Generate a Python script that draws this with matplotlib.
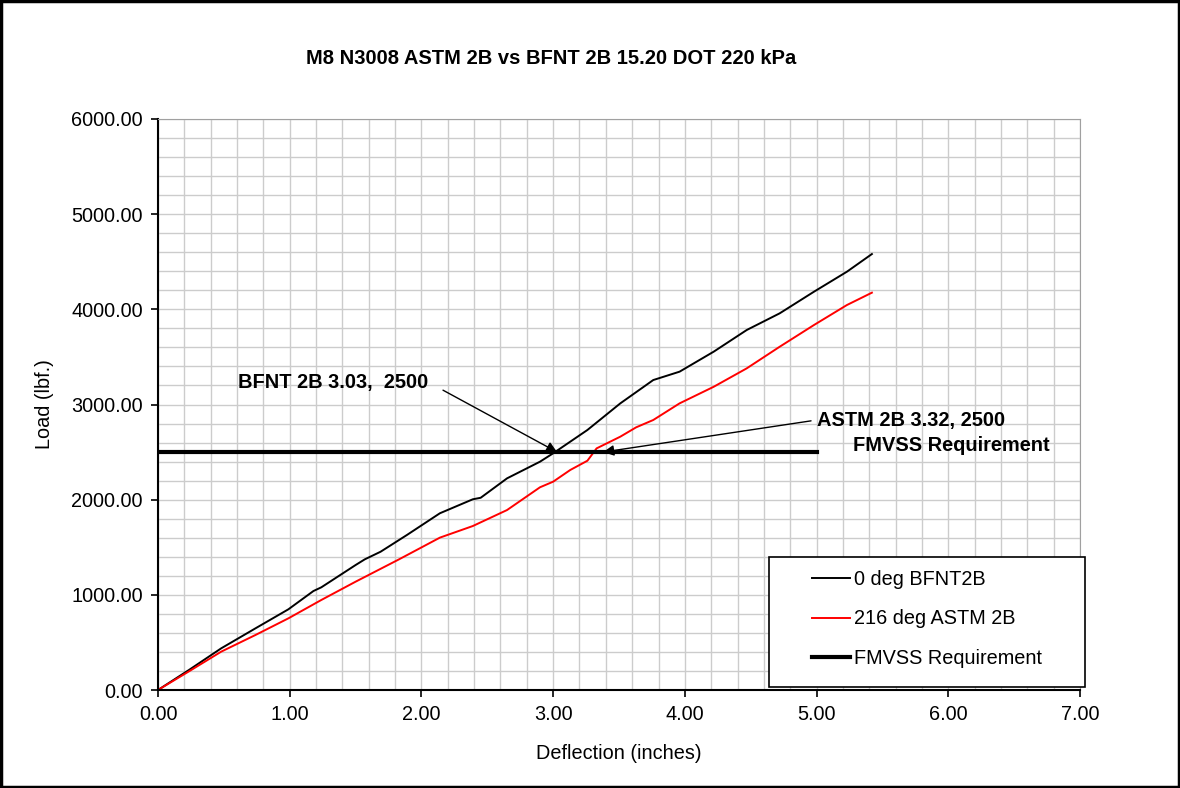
import matplotlib.pyplot as plt
from matplotlib.ticker import MultipleLocator, FormatStrFormatter
from matplotlib.patches import Rectangle

plt.rcParams['font.family'] = ['Liberation Sans', 'DejaVu Sans']

# curves (deflection in inches, load in lbf.)
bfnt_x = [0, 0.24, 0.48, 0.74, 0.99, 1.18, 1.24, 1.50, 1.57, 1.69, 1.89, 2.14, 2.39, 2.45,
          2.65, 2.90, 3.00, 3.26, 3.51, 3.76, 3.96, 4.22, 4.47, 4.72, 4.98, 5.23, 5.42]
bfnt_y = [0, 215, 438, 648, 848, 1040, 1079, 1313, 1373, 1453, 1629, 1857, 2004, 2020,
          2224, 2399, 2487, 2732, 3012, 3257, 3345, 3556, 3783, 3958, 4185, 4395, 4581]

astm_x = [0, 0.24, 0.48, 0.74, 0.99, 1.24, 1.50, 1.83, 2.14, 2.39, 2.65, 2.90, 3.00,
          3.13, 3.26, 3.33, 3.51, 3.63, 3.76, 3.96, 4.22, 4.47, 4.72, 4.98, 5.23, 5.42]
astm_y = [0, 200, 403, 578, 753, 946, 1138, 1373, 1601, 1723, 1891, 2130, 2189,
          2312, 2409, 2539, 2662, 2760, 2837, 3012, 3187, 3380, 3607, 3835, 4045, 4175]

req_x = [0, 5.0]
req_y = [2500, 2500]

fig = plt.figure(figsize=(11.8, 7.88), dpi=100)
ax = fig.add_axes([158 / 1180, 98 / 788, 922 / 1180, 571 / 788])

# border round the whole chart
fig.patches.append(Rectangle((0.001, 0.001), 0.998, 0.998, transform=fig.transFigure,
                             fill=False, edgecolor='black', lw=2.5))

ax.plot(bfnt_x, bfnt_y, color='black', lw=1.4, label='0 deg BFNT2B')
ax.plot(astm_x, astm_y, color='#ff0000', lw=1.4, label='216 deg ASTM 2B')
ax.plot(req_x, req_y, color='black', lw=3, label='FMVSS Requirement')

ax.set_xlim(0, 7)
ax.set_ylim(0, 6000)
ax.xaxis.set_major_locator(MultipleLocator(1))
ax.xaxis.set_minor_locator(MultipleLocator(0.2))
ax.yaxis.set_major_locator(MultipleLocator(1000))
ax.yaxis.set_minor_locator(MultipleLocator(200))
ax.xaxis.set_major_formatter(FormatStrFormatter('%.2f'))
ax.yaxis.set_major_formatter(FormatStrFormatter('%.2f'))
ax.grid(which='both', color='#cccccc', lw=1)
ax.set_axisbelow(True)
ax.tick_params(which='major', direction='out', length=5, width=1.2, labelsize=14.3, pad=6)
ax.tick_params(which='minor', length=0)
for s in ['top', 'right']:
    ax.spines[s].set_color('#a0a0a0')
for s in ['left', 'bottom']:
    ax.spines[s].set_linewidth(1.5)

ax.set_xlabel('Deflection (inches)', fontsize=14.3, labelpad=14)
ax.set_ylabel('Load (lbf.)', fontsize=14.3, labelpad=12)
fig.text(0.467, 0.926, 'M8 N3008 ASTM 2B vs BFNT 2B 15.20 DOT 220 kPa',
         ha='center', va='center', fontsize=14.5, fontweight='bold')

ax.annotate('BFNT 2B 3.03,  2500', xy=(3.03, 2500), xytext=(2.05, 3236),
            fontsize=14.4, fontweight='bold', ha='right', va='center',
            arrowprops=dict(arrowstyle='-|>', color='black', lw=1, mutation_scale=16,
                            relpos=(1, 0.5), shrinkA=10, shrinkB=0))
ax.annotate('ASTM 2B 3.32, 2500', xy=(3.38, 2500), xytext=(5.0, 2837),
            fontsize=14.4, fontweight='bold', ha='left', va='center',
            arrowprops=dict(arrowstyle='-|>', color='black', lw=1, mutation_scale=16,
                            relpos=(0, 0.5), shrinkB=0))
ax.text(5.28, 2574, 'FMVSS Requirement', fontsize=14.4, fontweight='bold',
        ha='left', va='center')

# legend box drawn separately so it can be as wide as the original
fig.patches.append(Rectangle((769 / 1180, 101 / 788), 316 / 1180, 130 / 788,
                             transform=fig.transFigure, facecolor='white',
                             edgecolor='black', lw=1.2, zorder=3))
leg = ax.legend(loc='center left', bbox_to_anchor=(812 / 1180, 169 / 788),
                bbox_transform=fig.transFigure, fontsize=14.3, frameon=False,
                borderpad=0, labelspacing=1.05, handlelength=1.9, handletextpad=0.2,
                borderaxespad=0)
leg.set_zorder(4)
fig.legends.append(ax.legend_)
ax.legend_ = None

fig.savefig('out.png', dpi=100)
